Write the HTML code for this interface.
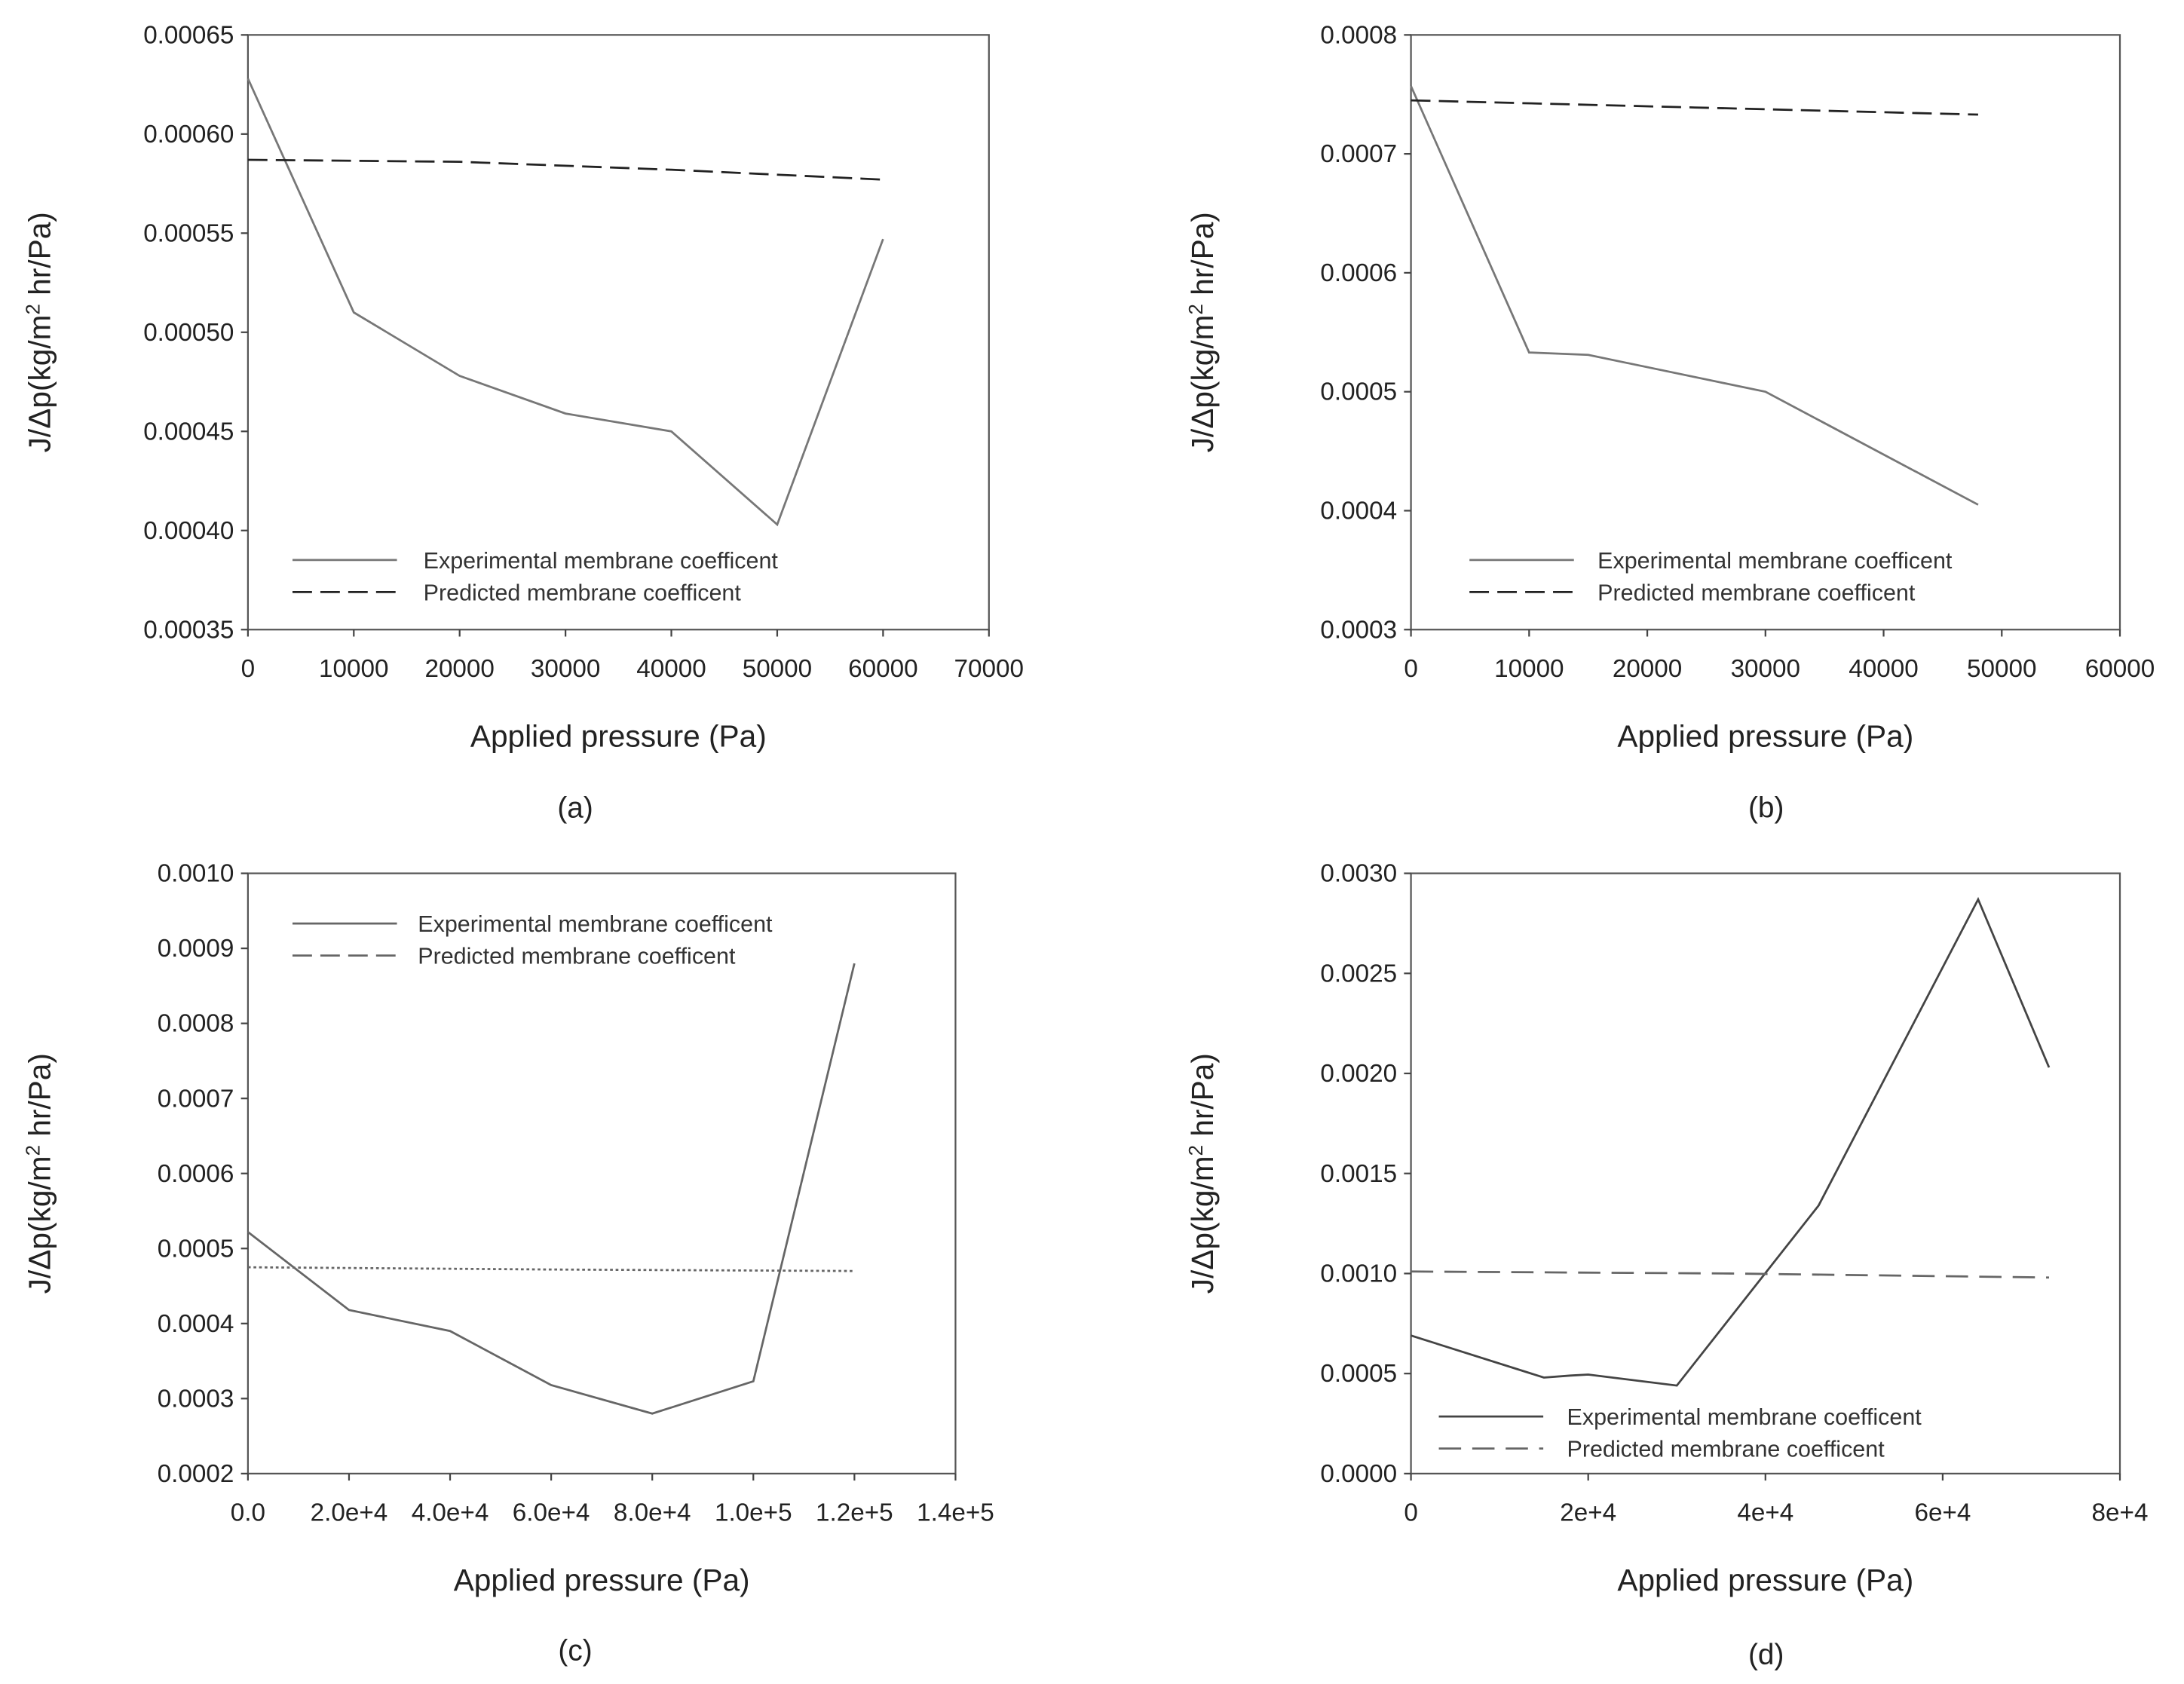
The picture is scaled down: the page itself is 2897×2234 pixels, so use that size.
<!DOCTYPE html>
<html><head><meta charset="utf-8"><style>
html,body{margin:0;padding:0;background:#fff}
svg{display:block;font-family:"Liberation Sans",Arial,sans-serif}
</style></head><body>
<svg id="fig" width="2897" height="2234" viewBox="0 0 1568 1209" xmlns="http://www.w3.org/2000/svg"></svg>
<script>
// Panel (a)
const aExpX=[0,10000,20000,30000,40000,50000,60000];
const aExpY=[0.000628,0.000510,0.000478,0.000459,0.000450,0.000403,0.000547];
const aPredX=[0,20000,40000,60000];
const aPredY=[0.000587,0.000586,0.000582,0.000577];
const aXTicks=[0,10000,20000,30000,40000,50000,60000,70000];
const aYTicks=[0.00035,0.00040,0.00045,0.00050,0.00055,0.00060,0.00065];
const aYLabels=["0.00035","0.00040","0.00045","0.00050","0.00055","0.00060","0.00065"];
// Panel (b)
const bExpX=[0,10000,15000,30000,48000];
const bExpY=[0.000757,0.000533,0.000531,0.000500,0.000405];
const bPredX=[0,24000,48000];
const bPredY=[0.000745,0.000739,0.000733];
const bXTicks=[0,10000,20000,30000,40000,50000,60000];
const bYTicks=[0.0003,0.0004,0.0005,0.0006,0.0007,0.0008];
const bYLabels=["0.0003","0.0004","0.0005","0.0006","0.0007","0.0008"];
// Panel (c)
const cExpX=[0,20000,40000,60000,80000,100000,120000];
const cExpY=[0.000522,0.000418,0.000390,0.000318,0.000280,0.000323,0.000880];
const cPredX=[0,60000,120000];
const cPredY=[0.000475,0.000472,0.000470];
const cXTicks=[0,20000,40000,60000,80000,100000,120000,140000];
const cXLabels=["0.0","2.0e+4","4.0e+4","6.0e+4","8.0e+4","1.0e+5","1.2e+5","1.4e+5"];
const cYTicks=[0.0002,0.0003,0.0004,0.0005,0.0006,0.0007,0.0008,0.0009,0.0010];
const cYLabels=["0.0002","0.0003","0.0004","0.0005","0.0006","0.0007","0.0008","0.0009","0.0010"];
// Panel (d)
const dExpX=[0,15000,18000,20000,30000,46000,64000,72000];
const dExpY=[0.00069,0.00048,0.00049,0.000495,0.00044,0.00134,0.00287,0.00203];
const dPredX=[0,36000,72000];
const dPredY=[0.00101,0.00100,0.00098];
const dXTicks=[0,20000,40000,60000,80000];
const dXLabels=["0","2e+4","4e+4","6e+4","8e+4"];
const dYTicks=[0,0.0005,0.0010,0.0015,0.0020,0.0025,0.0030];
const dYLabels=["0.0000","0.0005","0.0010","0.0015","0.0020","0.0025","0.0030"];

const NS="http://www.w3.org/2000/svg";
const svg=document.getElementById('fig');
function mk(tag,attrs,parent,text){const e=document.createElementNS(NS,tag);for(const k in attrs)e.setAttribute(k,attrs[k]);if(text!==undefined)e.textContent=text;(parent||svg).appendChild(e);return e;}

function panel(id,box,xdom,ydom,xt,xl,yt,yl,exp,pred,predDash,predColor,expColor,leg,cap){
  const g=mk('g',{});
  
  
  const sx=v=>box.l+(v-xdom[0])/(xdom[1]-xdom[0])*(box.r-box.l);
  const sy=v=>box.b-(v-ydom[0])/(ydom[1]-ydom[0])*(box.b-box.t);
  const frame=mk('rect',{x:box.l,y:box.t,width:box.r-box.l,height:box.b-box.t,fill:'none',stroke:'#555','stroke-width':1.2},g);
  
  
  xt.forEach((v,i)=>{
    const x=sx(v);
    mk('line',{x1:x,x2:x,y1:box.b,y2:box.b+5,stroke:'#444','stroke-width':1.2},g);
    const t=mk('text',{x:x,y:box.b+34,'font-size':18,'text-anchor':'middle',fill:'#222'},g,xl[i]);
    
    
  });
  yt.forEach((v,i)=>{
    const y=sy(v);
    mk('line',{x1:box.l-5,x2:box.l,y1:y,y2:y,stroke:'#444','stroke-width':1.2},g);
    const t=mk('text',{x:box.l-10,y:y+6,'font-size':18,'text-anchor':'end',fill:'#222'},g,yl[i]);
    
    
  });
  const pe=mk('polyline',{points:exp[0].map((v,i)=>sx(v)+','+sy(exp[1][i])).join(' '),fill:'none',stroke:expColor,'stroke-width':1.5},g);
  
  
  const pp=mk('polyline',{points:pred[0].map((v,i)=>sx(v)+','+sy(pred[1][i])).join(' '),fill:'none',stroke:predColor,'stroke-width':1.5,'stroke-dasharray':predDash},g);
  
  
  const l1=mk('line',{x1:leg.x,x2:leg.x+75,y1:leg.y,y2:leg.y,stroke:expColor,'stroke-width':1.5},g);
  
  
  const t1=mk('text',{x:leg.tx,y:leg.y+6,'font-size':16.5,fill:'#333'},g,'Experimental membrane coefficent');
  
  
  const l2=mk('line',{x1:leg.x,x2:leg.x+75,y1:leg.y+23,y2:leg.y+23,stroke:predColor,'stroke-width':1.5,'stroke-dasharray':leg.dash},g);
  
  
  const t2=mk('text',{x:leg.tx,y:leg.y+29,'font-size':16.5,fill:'#333'},g,'Predicted membrane coefficent');
  
  
  const cx=(box.l+box.r)/2, cy=(box.t+box.b)/2;
  const xtitle=mk('text',{x:cx,y:box.b+84,'font-size':22,'text-anchor':'middle',fill:'#222'},g,'Applied pressure (Pa)');
  
  
  const ytitle=mk('text',{x:0,y:0,'font-size':22,'text-anchor':'middle',fill:'#222',transform:`translate(${box.l-142},${cy}) rotate(-90)`},g);
  
  
  ytitle.innerHTML='J/Δp(kg/m<tspan baseline-shift="super" font-size="14">2</tspan> hr/Pa)';
  const c=mk('text',{x:cap.x,y:cap.y,'font-size':21,'text-anchor':'middle',fill:'#222'},g,cap.t);
  
  
}
const fmt=a=>a.map(String);
panel('a',{l:178,r:710,t:25,b:452},[0,70000],[0.00035,0.00065],aXTicks,fmt(aXTicks),aYTicks,aYLabels,[aExpX,aExpY],[aPredX,aPredY],'14 6','#222','#777',{x:210,tx:304,y:402,dash:'14 6'},{x:413,y:587,t:'(a)'});
panel('b',{l:1013,r:1522,t:25,b:452},[0,60000],[0.0003,0.0008],bXTicks,fmt(bXTicks),bYTicks,bYLabels,[bExpX,bExpY],[bPredX,bPredY],'14 6','#222','#777',{x:1055,tx:1147,y:402,dash:'14 6'},{x:1268,y:587,t:'(b)'});
panel('c',{l:178,r:686,t:627,b:1058},[0,140000],[0.0002,0.0010],cXTicks,cXLabels,cYTicks,cYLabels,[cExpX,cExpY],[cPredX,cPredY],'2 2','#666','#666',{x:210,tx:300,y:663,dash:'14 6'},{x:413,y:1192,t:'(c)'});
panel('d',{l:1013,r:1522,t:627,b:1058},[0,80000],[0,0.003],dXTicks,dXLabels,dYTicks,dYLabels,[dExpX,dExpY],[dPredX,dPredY],'16 8','#666','#444',{x:1033,tx:1125,y:1017,dash:'16 8'},{x:1268,y:1195,t:'(d)'});
</script>
</body></html>
